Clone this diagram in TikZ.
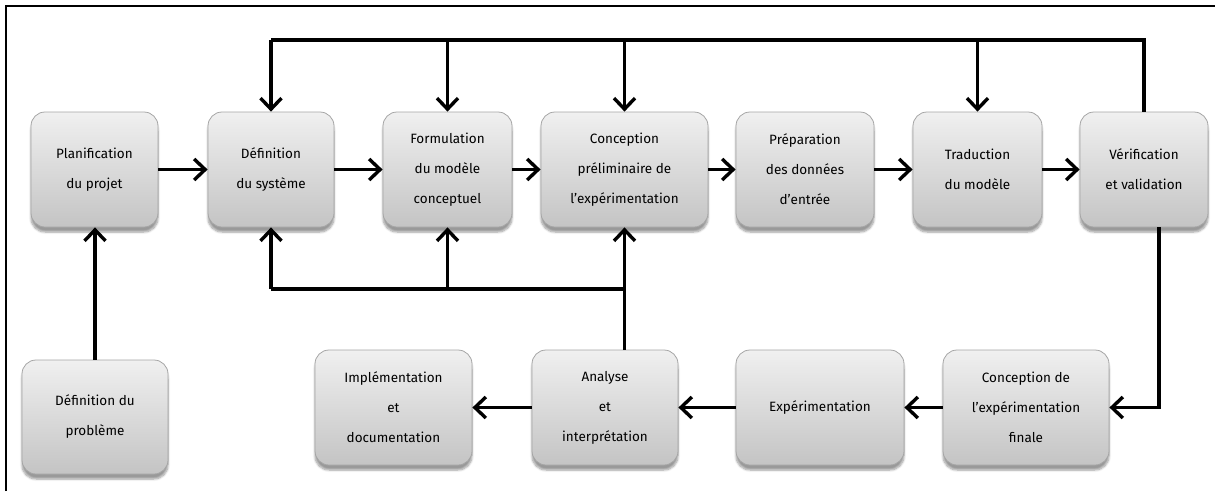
\documentclass[tikz,border=0pt]{standalone}
\usepackage{fontspec}
\setmainfont{Fira Sans}
\usetikzlibrary{arrows.meta,shadows.blur}
\definecolor{boxtop}{HTML}{F0F0F0}
\definecolor{boxbot}{HTML}{C4C4C4}
\definecolor{boxedge}{HTML}{A5A5A5}
\tikzset{
  procbox/.style={draw=boxedge, line width=0.8pt, rounded corners=14pt,
    top color=boxtop, bottom color=boxbot, align=center, inner sep=2pt,
    font=\fontsize{13.5}{30}\selectfont, text=black,
    blur shadow={shadow xshift=0pt, shadow yshift=-5pt, shadow blur steps=6, shadow opacity=40}},
  ln/.style={line width=3.6pt, black},
  arr/.style={ln, -{Straight Barb[length=11pt, width=21pt, line width=3.4pt]}},
  frame/.style={line width=1.8pt, black}
}
\begin{document}
\begin{tikzpicture}[x=1pt, y=-1pt]
\useasboundingbox (0,0) rectangle (1215,491);
\draw[frame] (6,491) -- (6,6) -- (1215,6);
% top row
\node[procbox, minimum width=127pt, minimum height=115pt] (plan) at (94.5,169.5) {Planification\\du projet};
\node[procbox, minimum width=126pt, minimum height=115pt] (defsys) at (271,169.5) {Définition\\du système};
\node[procbox, minimum width=129pt, minimum height=115pt] (form) at (447.5,169.5) {Formulation\\du modèle\\conceptuel};
\node[procbox, minimum width=167pt, minimum height=115pt] (concp) at (624.5,169.5) {Conception\\préliminaire de\\l’expérimentation};
\node[procbox, minimum width=138pt, minimum height=115pt] (prep) at (805,169.5) {Préparation\\des données\\d’entrée};
\node[procbox, minimum width=129pt, minimum height=115pt] (trad) at (977.5,169.5) {Traduction\\du modèle};
\node[procbox, minimum width=128pt, minimum height=115pt] (verif) at (1144,169.5) {Vérification\\et validation};
% bottom row
\node[procbox, minimum width=146pt, minimum height=114pt] (defprob) at (95,417) {Définition du\\problème};
\node[procbox, minimum width=157pt, minimum height=115pt] (impl) at (393.5,407.5) {Implémentation\\et\\documentation};
\node[procbox, minimum width=146pt, minimum height=115pt] (anal) at (605,407.5) {Analyse\\et\\interprétation};
\node[procbox, minimum width=168pt, minimum height=115pt] (exp) at (820,407.5) {Expérimentation};
\node[procbox, minimum width=166pt, minimum height=115pt] (cfin) at (1026,407.5) {Conception de\\l’expérimentation\\finale};
% helper coordinates
\coordinate (top) at (0,40);
\coordinate (bot) at (0,289);
% main flow
\draw[arr] (plan) -- (defsys);
\draw[arr] (defsys) -- (form);
\draw[arr] (form) -- (concp);
\draw[arr] (concp) -- (prep);
\draw[arr] (prep) -- (trad);
\draw[arr] (trad) -- (verif);
\draw[arr] (defprob.north) -- (defprob.north |- plan.south);
% top feedback
\draw[ln] (verif.north) |- (defsys.north |- top);
\draw[arr] (defsys.north |- top) -- (defsys.north);
\draw[arr] (form.north |- top) -- (form.north);
\draw[arr] (concp.north |- top) -- (concp.north);
\draw[arr] (trad.north |- top) -- (trad.north);
% bottom feedback
\draw[arr] (anal.north -| concp.south) -- (concp.south);
\draw[ln] (concp.south |- bot) -- (defsys.south |- bot);
\draw[arr] (defsys.south |- bot) -- (defsys.south);
\draw[arr] (form.south |- bot) -- (form.south);
% to final design
\draw[arr] ([xshift=15pt]verif.south) |- (cfin.east);
\draw[arr] (cfin) -- (exp);
\draw[arr] (exp) -- (anal);
\draw[arr] (anal) -- (impl);
\end{tikzpicture}
\end{document}
